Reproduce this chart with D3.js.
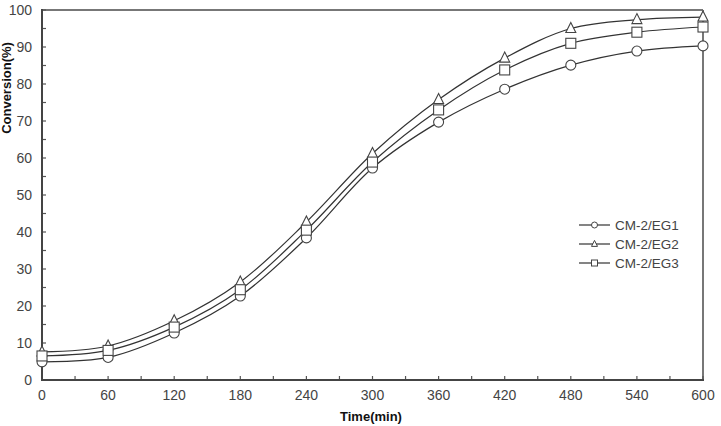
<!DOCTYPE html>
<html><head><meta charset="utf-8">
<script src="https://cdn.jsdelivr.net/npm/d3@7"></script>
<style>body{margin:0;background:#fff}svg{display:block}</style>
</head><body>
<svg id="c" width="721" height="426"></svg>
<script>
const times = [0, 60, 120, 180, 240, 300, 360, 420, 480, 540, 600];
const eg1 = [4.9, 6.1, 12.7, 22.7, 38.4, 57.3, 69.7, 78.6, 85.1, 88.9, 90.3];
const eg2 = [7.6, 9.2, 16.0, 26.5, 42.7, 61.2, 75.8, 87.0, 95.0, 97.4, 98.1];
const eg3 = [6.5, 8.0, 14.3, 24.4, 40.5, 58.9, 73.0, 83.8, 91.0, 94.0, 95.4];
const seriesNames = ["CM-2/EG1", "CM-2/EG2", "CM-2/EG3"];
const xTicks = [0, 60, 120, 180, 240, 300, 360, 420, 480, 540, 600];
const yTicks = [0, 10, 20, 30, 40, 50, 60, 70, 80, 90, 100];

const svg = d3.select("#c");
const x = d3.scaleLinear().domain([0, 600]).range([42, 703]);
const y = d3.scaleLinear().domain([0, 100]).range([380, 10]);
const font = "'Liberation Sans', Arial, sans-serif";

// frame top/right
svg.append("line").attr("x1", x(0)).attr("x2", x(600)).attr("y1", y(100)).attr("y2", y(100)).attr("stroke", "#777").attr("stroke-width", 2);
svg.append("line").attr("x1", x(600)).attr("x2", x(600)).attr("y1", y(100)).attr("y2", y(0)).attr("stroke", "#777").attr("stroke-width", 2);

// minor/major ticks inward
const yAll = d3.range(0, 101, 5);
svg.append("g").selectAll("line").data(yAll).join("line")
  .attr("x1", x(0)).attr("x2", x(0) + 4).attr("y1", d => y(d)).attr("y2", d => y(d))
  .attr("stroke", "#555").attr("stroke-width", 1.2);
const xAll = d3.range(0, 601, 30);
svg.append("g").selectAll("line").data(xAll).join("line")
  .attr("x1", d => x(d)).attr("x2", d => x(d)).attr("y1", y(0)).attr("y2", y(0) - 4)
  .attr("stroke", "#555").attr("stroke-width", 1.2);

// axes lines
svg.append("line").attr("x1", x(0)).attr("x2", x(0)).attr("y1", y(100) - 1).attr("y2", y(0) + 1).attr("stroke", "#444").attr("stroke-width", 2);
svg.append("line").attr("x1", x(0) - 1).attr("x2", x(600) + 1).attr("y1", y(0)).attr("y2", y(0)).attr("stroke", "#444").attr("stroke-width", 2);

// tick labels
svg.append("g").selectAll("text").data(yTicks).join("text")
  .attr("x", 32).attr("y", d => y(d)).attr("dy", "0.36em").attr("text-anchor", "end")
  .attr("font-family", font).attr("font-size", 14).attr("fill", "#444").text(d => d);
svg.append("g").selectAll("text").data(xTicks).join("text")
  .attr("x", d => x(d)).attr("y", 400).attr("text-anchor", "middle")
  .attr("font-family", font).attr("font-size", 14).attr("fill", "#444").text(d => d);

// axis titles
svg.append("text").attr("x", 371).attr("y", 421).attr("text-anchor", "middle")
  .attr("font-family", font).attr("font-size", 13).attr("font-weight", "bold").attr("fill", "#111").text("Time(min)");
svg.append("text").attr("transform", "translate(11,88) rotate(-90)").attr("text-anchor", "middle")
  .attr("font-family", font).attr("font-size", 13).attr("font-weight", "bold").attr("fill", "#111").text("Conversion(%)");

const data = [eg1, eg2, eg3];
const line = d3.line().x((d, i) => x(times[i])).y(d => y(d)).curve(d3.curveCatmullRom.alpha(0.5));
data.forEach(s => {
  svg.append("path").attr("d", line(s)).attr("fill", "none").attr("stroke", "#333").attr("stroke-width", 1.2);
});

function marker(g, type, cx, cy, r) {
  if (type === 0) {
    g.append("circle").attr("cx", cx).attr("cy", cy).attr("r", r);
  } else if (type === 1) {
    g.append("path").attr("d", `M${cx},${cy - r * 1.2}L${cx + r},${cy + r * 0.8}L${cx - r},${cy + r * 0.8}Z`);
  } else {
    g.append("rect").attr("x", cx - r).attr("y", cy - r).attr("width", 2 * r).attr("height", 2 * r);
  }
}
const mg = svg.append("g").attr("fill", "#fff").attr("stroke", "#444").attr("stroke-width", 1.1);
[0, 1, 2].forEach(k => {
  data[k].forEach((v, i) => marker(mg, k, x(times[i]), y(v), 5));
});

// legend
const lg = svg.append("g");
seriesNames.forEach((n, k) => {
  const ly = 225 + k * 19;
  lg.append("line").attr("x1", 579).attr("x2", 610).attr("y1", ly).attr("y2", ly).attr("stroke", "#333").attr("stroke-width", 1.2);
  const g = lg.append("g").attr("fill", "#fff").attr("stroke", "#444").attr("stroke-width", 1);
  marker(g, k, 594.5, ly, 3);
  lg.append("text").attr("x", 615).attr("y", ly).attr("dy", "0.36em")
    .attr("font-family", font).attr("font-size", 13.5).attr("fill", "#444").text(n);
});
</script>
</body></html>
